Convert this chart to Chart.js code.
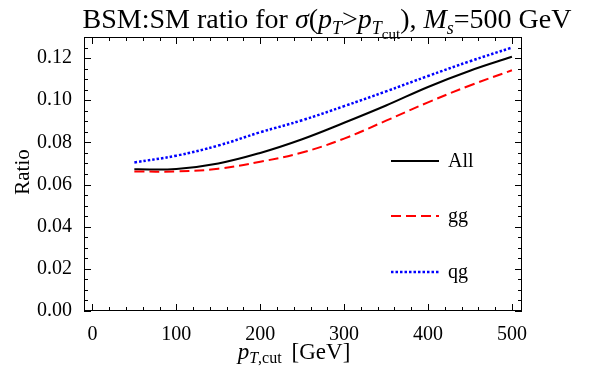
<!DOCTYPE html>
<html>
<head>
<meta charset="utf-8">
<script src="https://cdn.jsdelivr.net/npm/chart.js@4/dist/chart.umd.min.js"></script>
<style>
  html, body { margin: 0; padding: 0; background: #fff; }
  canvas { display: block; }
</style>
</head>
<body>
<canvas id="ratioChart" width="600" height="378"></canvas>
<script>
'use strict';

// pT,cut values [GeV] and the BSM:SM ratios
const PT_CUT = [50, 100, 150, 200, 250, 300, 350, 400, 450, 500];
const RATIO_ALL = [0.0672, 0.0674, 0.0700, 0.0750, 0.0815, 0.0893, 0.0975, 0.1063, 0.1140, 0.1206];
const RATIO_GG  = [0.0662, 0.0662, 0.0675, 0.0708, 0.0752, 0.0818, 0.0903, 0.0990, 0.1070, 0.1142];
const RATIO_QG  = [0.0705, 0.0737, 0.0785, 0.0848, 0.0905, 0.0972, 0.1042, 0.1115, 0.1185, 0.1250];

const X_TICKS = [0, 100, 200, 300, 400, 500];
const Y_TICKS = [0, 0.02, 0.04, 0.06, 0.08, 0.10, 0.12];

const SERIF = "'Liberation Serif', 'DejaVu Serif', serif";

/* ── rich text helper (italics / subscripts) ───────────── */
function richWidth(ctx, segs) {
    let w = 0;
    segs.forEach(s => {
        ctx.font = `${s.italic ? 'italic ' : ''}${s.size}px ${SERIF}`;
        w += ctx.measureText(s.t).width + (s.gap || 0);
    });
    return w;
}

function drawRich(ctx, segs, cx, baseline) {
    let x = cx - richWidth(ctx, segs) / 2;
    ctx.textAlign = 'left';
    ctx.textBaseline = 'alphabetic';
    ctx.fillStyle = '#000';
    segs.forEach(s => {
        ctx.font = `${s.italic ? 'italic ' : ''}${s.size}px ${SERIF}`;
        ctx.fillText(s.t, x, baseline + (s.dy || 0));
        x += ctx.measureText(s.t).width + (s.gap || 0);
    });
}

/* ── frame, inward ticks, titles, legend ───────────────── */
const decorations = {
    id: 'decorations',
    afterDraw(chart) {
        const ctx = chart.ctx;
        const a = chart.chartArea;
        const xs = chart.scales.x, ys = chart.scales.y;
        ctx.save();

        // frame
        ctx.strokeStyle = '#000';
        ctx.lineWidth = 1;
        ctx.strokeRect(a.left + 0.5, a.top + 0.5, a.right - a.left - 1, a.bottom - a.top - 1);

        // x ticks (major 100, minor 20), bottom and top
        ctx.beginPath();
        for (let v = 0; v <= 500; v += 20) {
            const px = Math.round(xs.getPixelForValue(v)) + 0.5;
            const len = v % 100 === 0 ? 7 : 4;
            ctx.moveTo(px, a.bottom); ctx.lineTo(px, a.bottom - len);
            ctx.moveTo(px, a.top); ctx.lineTo(px, a.top + len);
        }
        // y ticks (major 0.02, minor 0.005), left and right
        for (let i = 0; i <= 26; i++) {
            const v = i * 0.005;
            const py = Math.round(ys.getPixelForValue(v)) + 0.5;
            const len = i % 4 === 0 ? 7 : 4;
            ctx.moveTo(a.left, py); ctx.lineTo(a.left + len, py);
            ctx.moveTo(a.right, py); ctx.lineTo(a.right - len, py);
        }
        ctx.stroke();

        // title
        drawRich(ctx, [
            { t: 'BSM:SM ratio for ', size: 28 },
            { t: 'σ', size: 28, italic: true },
            { t: '(', size: 28 },
            { t: 'p', size: 28, italic: true },
            { t: 'T', size: 18, italic: true, dy: 6 },
            { t: '>', size: 28 },
            { t: 'p', size: 28, italic: true },
            { t: 'T', size: 18, italic: true, dy: 6 },
            { t: 'cut', size: 15, dy: 11 },
            { t: '), ', size: 28 },
            { t: 'M', size: 28, italic: true },
            { t: 's', size: 18, italic: true, dy: 6 },
            { t: '=500 GeV', size: 28 },
        ], 327, 28);

        // x axis title
        drawRich(ctx, [
            { t: 'p', size: 23, italic: true },
            { t: 'T', size: 16, italic: true, dy: 4 },
            { t: ',cut', size: 16, dy: 4, gap: 10 },
            { t: '[GeV]', size: 23 },
        ], 294, 359);

        // y axis title
        ctx.save();
        ctx.translate(29, 172);
        ctx.rotate(-Math.PI / 2);
        ctx.font = `21px ${SERIF}`;
        ctx.textAlign = 'center';
        ctx.textBaseline = 'alphabetic';
        ctx.fillText('Ratio', 0, 0);
        ctx.restore();

        // legend
        const items = [
            { label: 'All', color: '#000000', dash: [], width: 2, y: 161 },
            { label: 'gg', color: '#ff0000', dash: [10, 5], width: 2, y: 216 },
            { label: 'qg', color: '#0000ff', dash: [2.5, 2], width: 2.5, y: 272 },
        ];
        items.forEach(it => {
            ctx.beginPath();
            ctx.strokeStyle = it.color;
            ctx.lineWidth = it.width;
            ctx.setLineDash(it.dash);
            ctx.moveTo(391, it.y); ctx.lineTo(439, it.y);
            ctx.stroke();
            ctx.setLineDash([]);
            ctx.fillStyle = '#000';
            ctx.font = `20px ${SERIF}`;
            ctx.textAlign = 'left';
            ctx.textBaseline = 'alphabetic';
            ctx.fillText(it.label, 448, it.y + 6);
        });

        ctx.restore();
    }
};

function series(ys) {
    return PT_CUT.map((x, i) => ({ x, y: ys[i] }));
}

const tickFont = { family: SERIF, size: 20 };

new Chart(document.getElementById('ratioChart'), {
    type: 'line',
    data: {
        datasets: [
            { label: 'qg', data: series(RATIO_QG), borderColor: '#0000ff', borderWidth: 2.5, borderDash: [2.5, 2] },
            { label: 'gg', data: series(RATIO_GG), borderColor: '#ff0000', borderWidth: 2, borderDash: [10, 5] },
            { label: 'All', data: series(RATIO_ALL), borderColor: '#000000', borderWidth: 2 },
        ]
    },
    options: {
        responsive: false,
        animation: false,
        devicePixelRatio: 1,
        layout: { padding: { top: 37, right: 78, left: 0, bottom: 0 } },
        elements: {
            point: { radius: 0 },
            line: { tension: 0.4, fill: false }
        },
        plugins: {
            legend: { display: false },
            title: { display: false },
            tooltip: { enabled: false }
        },
        scales: {
            x: {
                type: 'linear', min: -10, max: 512,
                grid: { display: false }, border: { display: false },
                ticks: { font: tickFont, color: '#000', padding: 4, maxRotation: 0 },
                afterBuildTicks: s => { s.ticks = X_TICKS.map(v => ({ value: v })); },
                afterFit: s => { s.height = 67; }
            },
            y: {
                type: 'linear', min: 0, max: 0.13,
                grid: { display: false }, border: { display: false },
                ticks: { font: tickFont, color: '#000', padding: 4, callback: v => v.toFixed(2) },
                afterBuildTicks: s => { s.ticks = Y_TICKS.map(v => ({ value: v })); },
                afterFit: s => { s.width = 84; }
            }
        }
    },
    plugins: [decorations]
});
</script>
</body>
</html>
